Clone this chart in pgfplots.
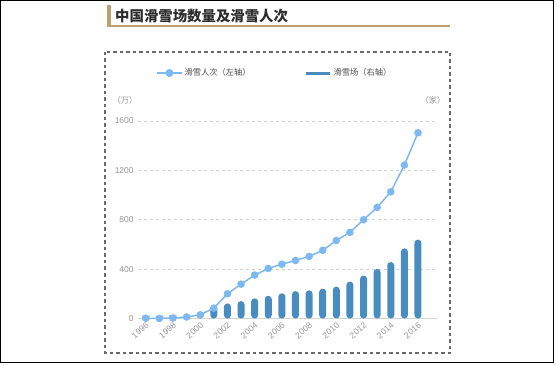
\documentclass[border=0pt]{standalone}
\usepackage{fontspec}
\setmainfont{Liberation Sans}
\newfontfamily\cjk{Noto Sans CJK SC}
\usepackage{pgfplots}
\pgfplotsset{compat=1.18}
\definecolor{lineblue}{RGB}{125,185,240}
\definecolor{barblue}{RGB}{72,140,192}
\definecolor{tan}{RGB}{190,160,110}
\definecolor{boxgray}{RGB}{105,105,105}
\definecolor{tickgray}{RGB}{150,150,150}
\definecolor{titlegray}{RGB}{45,45,45}
\begin{document}
\begin{tikzpicture}[x=1pt,y=1pt]
\path[use as bounding box] (0,0) rectangle (556,364);
% outer frame
\draw[black, line width=1.3pt] (0.7,363.3) rectangle (553.7,1.3);
% title
\fill[tan] (106.5,364-5) rectangle (111,364-26.5);
\draw[tan, line width=1.5pt] (106.5,364-26) -- (450,364-26);
\node[anchor=west, inner sep=0pt, text=titlegray, font=\cjk\bfseries\fontsize{14.4}{16}\selectfont] at (115,364-16) {中国滑雪场数量及滑雪人次};
% dashed box
\draw[boxgray, line width=1.4pt, dash pattern=on 3.5pt off 3pt] (105,364-52) rectangle (450,364-353);
% unit labels
\node[text=tickgray, font=\cjk\fontsize{8.25}{10}\selectfont, inner sep=0pt] at (125,364-100) {（万）};
\node[text=tickgray, font=\cjk\fontsize{8.25}{10}\selectfont, inner sep=0pt] at (433,364-100) {（家）};
\begin{axis}[
  at={(138pt,45.5pt)}, anchor=south west,
  scale only axis, width=300pt, height=197.5pt,
  xmin=1995.43, xmax=2017.47, ymin=0, ymax=1600,
  clip=false,
  axis lines=left,
  x axis line style={draw=black!17, line width=1.5pt, -},
  y axis line style={draw=none},
  tick style={draw=none},
  ytick={0,400,800,1200,1600},
  xtick={1996,1998,...,2016},
  ymajorgrids,
  grid style={black!18, dashed, line width=0.6pt},
  /pgf/number format/1000 sep={},
  /pgf/number format/assume math mode=true,
  ticklabel style={text=tickgray, font=\fontsize{8.5}{10}\selectfont},
  xticklabel style={rotate=40, anchor=north east, inner sep=1pt},
  yticklabel style={inner sep=2pt},
  legend style={at={(0.06,1.243)}, anchor=west, draw=none, fill=none,
    font=\cjk\fontsize{8.25}{10}\selectfont, text=black!70,
    legend columns=2, inner sep=0pt,
    /tikz/every even column/.append style={column sep=52pt}},
  legend cell align=left,
]
\addplot[ybar, bar width=7pt, fill=barblue, draw=none, rounded corners=3.4pt, forget plot] coordinates {
(1996,18) (1997,20) (1998,22) (1999,25) (2000,50) (2001,100) (2002,122) (2003,141) (2004,163)
(2005,184) (2006,204) (2007,222) (2008,228) (2009,242) (2010,258) (2011,299) (2012,348)
(2013,402) (2014,457) (2015,568) (2016,639)};
\addplot[lineblue, line width=1.5pt, mark=*, mark size=3pt, mark options={fill=lineblue, draw=lineblue},
  legend image code/.code={\draw[lineblue, line width=1.5pt] (0pt,0pt) -- (25pt,0pt); \fill[lineblue] (12.5pt,0pt) circle (3.2pt);}] coordinates {
(1996,2) (1997,1) (1998,4) (1999,12) (2000,30) (2001,84) (2002,200) (2003,278) (2004,352)
(2005,405) (2006,440) (2007,470) (2008,503) (2009,552) (2010,632) (2011,698) (2012,800)
(2013,900) (2014,1026) (2015,1243) (2016,1505)};
\addlegendentry{滑雪人次（左轴）}
\addlegendimage{legend image code/.code={\draw[barblue, line width=3pt] (0pt,0pt) -- (24pt,0pt);}}
\addlegendentry{滑雪场（右轴）}
\end{axis}
\end{tikzpicture}
\end{document}
